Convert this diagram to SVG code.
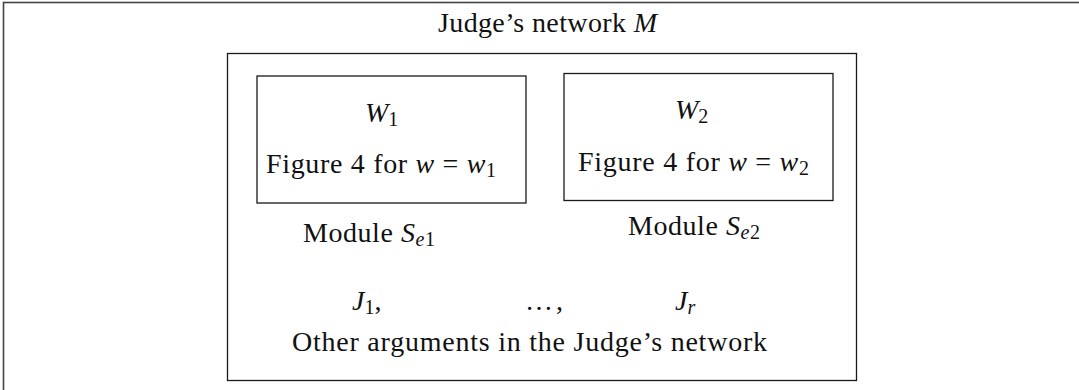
<svg xmlns="http://www.w3.org/2000/svg" width="1079" height="390" viewBox="0 0 1079 390">
  <style>
    .box { fill: none; stroke: #1a1a1a; stroke-width: 1.3; }
    .frame { fill: none; stroke: #444; stroke-width: 1.6; }
    text { font-family: "Liberation Serif", "Times New Roman", serif; font-size: 28px; fill: #111; }
    .it { font-style: italic; }
    .sub { font-size: 20px; }
  </style>
  <rect width="1079" height="390" fill="#fff"/>
  <g id="outer-frame">
    <rect class="frame" x="3.5" y="2.5" width="1090" height="400"/>
    <text x="438" y="32" textLength="219" lengthAdjust="spacing">Judge’s network <tspan class="it">M</tspan></text>
  </g>
  <g id="judge-network">
    <rect class="box" x="227.5" y="53.5" width="629" height="327"/>
  </g>
  <g id="module-se1">
    <rect class="box" x="257" y="76" width="269" height="127"/>
    <text x="365" y="121.5"><tspan class="it">W</tspan><tspan class="sub" dy="4">1</tspan></text>
    <text x="266" y="173" textLength="230" lengthAdjust="spacing">Figure 4 for <tspan class="it">w</tspan> = <tspan class="it">w</tspan><tspan class="sub" dy="4">1</tspan></text>
    <text x="303" y="241.5" textLength="132" lengthAdjust="spacing">Module <tspan class="it">S</tspan><tspan class="sub it" dy="4">e</tspan><tspan class="sub">1</tspan></text>
  </g>
  <g id="module-se2">
    <rect class="box" x="564" y="73.5" width="269" height="127"/>
    <text x="675" y="119"><tspan class="it">W</tspan><tspan class="sub" dy="4">2</tspan></text>
    <text x="578" y="170.5" textLength="231" lengthAdjust="spacing">Figure 4 for <tspan class="it">w</tspan> = <tspan class="it">w</tspan><tspan class="sub" dy="4">2</tspan></text>
    <text x="628" y="235" textLength="132" lengthAdjust="spacing">Module <tspan class="it">S</tspan><tspan class="sub it" dy="4">e</tspan><tspan class="sub">2</tspan></text>
  </g>
  <g id="other-arguments">
    <text x="352" y="310"><tspan class="it">J</tspan><tspan class="sub" dy="4">1</tspan><tspan dy="-4">,</tspan></text>
    <text x="525" y="310" textLength="38" lengthAdjust="spacing">…,</text>
    <text x="675" y="310"><tspan class="it">J</tspan><tspan class="sub it" dy="4">r</tspan></text>
    <text x="292" y="351" textLength="475" lengthAdjust="spacing">Other arguments in the Judge’s network</text>
  </g>
  <g id="connectors"/>
</svg>
